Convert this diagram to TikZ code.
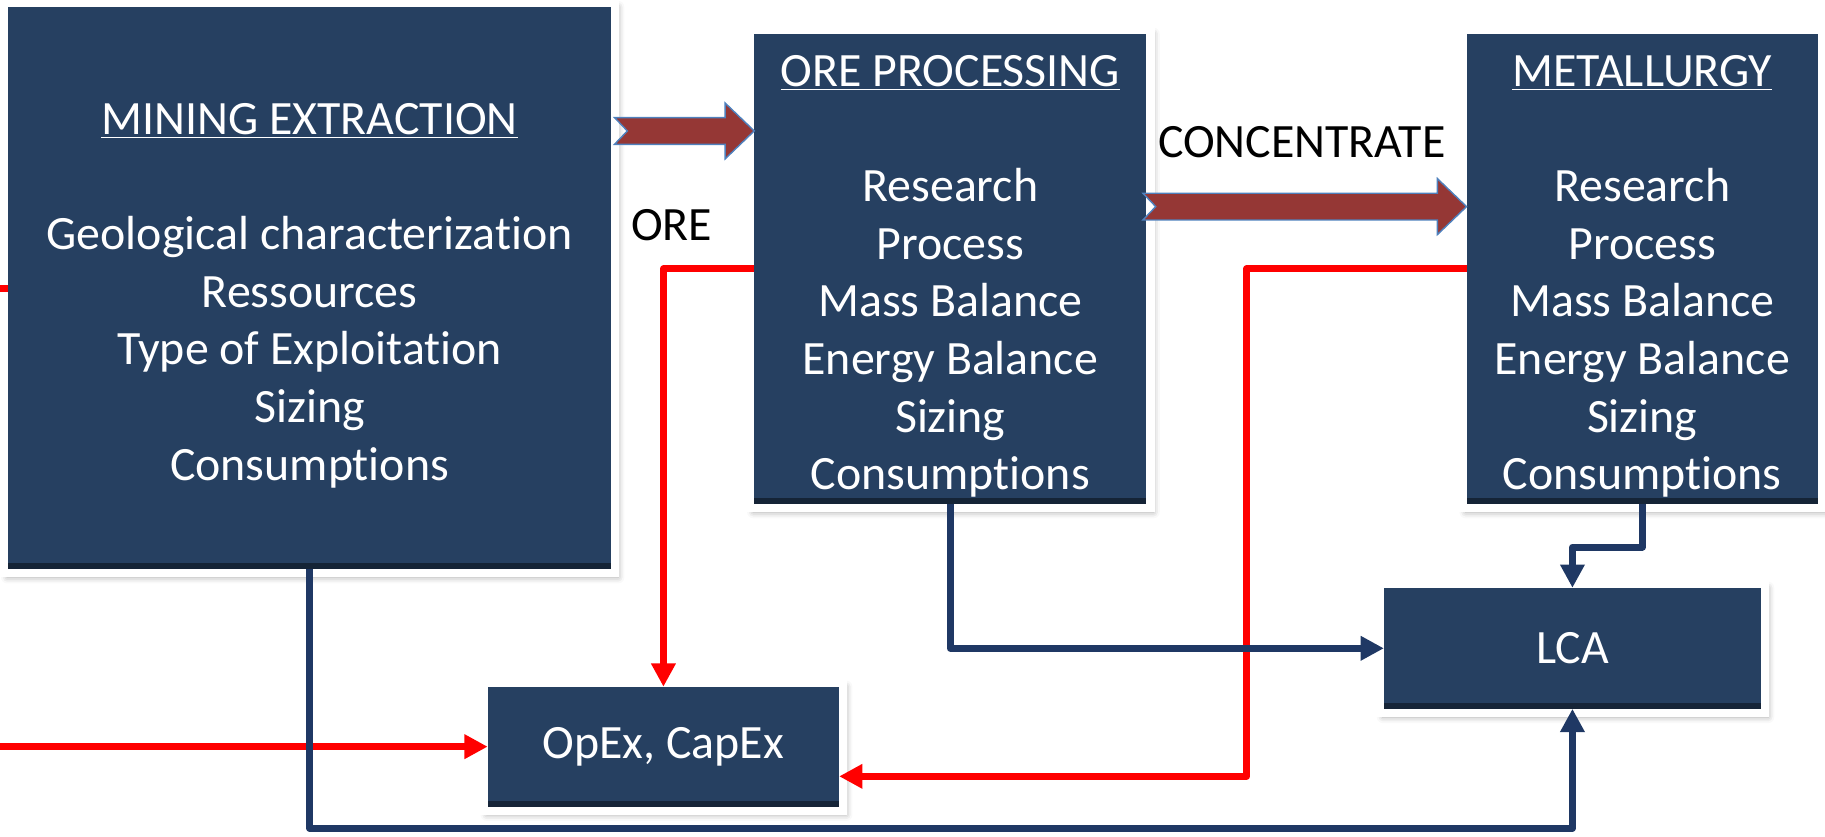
\documentclass[tikz,border=0pt]{standalone}
\usepackage{fontspec}
\setmainfont{Carlito}[Ligatures=NoCommon]
\usepackage{tikz}
\usetikzlibrary{calc}
\usetikzlibrary{arrows.meta,shadows.blur}

\definecolor{boxblue}{RGB}{38,64,97}
\definecolor{lineblue}{RGB}{31,56,100}
\definecolor{flowred}{RGB}{149,55,53}
\definecolor{flowedge}{RGB}{79,129,189}

\begin{document}
\begin{tikzpicture}[x=0.2mm, y=-0.2mm,
	block/.style={rectangle, fill=boxblue, draw=white, line width=4pt,
		outer sep=-2pt, inner sep=0pt, text=white, align=center,
		font=\fontsize{23.4}{28.2}\selectfont,
		blur shadow={shadow xshift=1.5pt, shadow yshift=-2pt,
			shadow blur radius=3pt, shadow opacity=35},
		path picture={\shade[top color=boxblue, bottom color=boxblue!55!black]
			(path picture bounding box.south west)
			rectangle ([yshift=1.6mm]path picture bounding box.south east);}},
	tag/.style={text=black, font=\fontsize{23.4}{28.2}\selectfont},
	blueflow/.style={draw=lineblue, line width=3.4pt, line join=round,
		-{Triangle[length=4mm,width=4mm]}},
	redflow/.style={draw=red, line width=3.4pt, line join=round,
		-{Triangle[length=4mm,width=4mm]}},
	fatarrow/.style={fill=flowred, draw=flowedge, line width=0.7pt}]
	
	\useasboundingbox (0,0) rectangle (1568,719);
	\clip (0,0) rectangle (1568,719);
	
	% stage title, with some room above it
	\def\head#1{\rule{0pt}{22.5pt}\underline{#1}}
	
	% the three stages
	\node[block, minimum width=105mm, minimum height=98mm] (mining) at (266,247.5)
	{\head{MINING EXTRACTION}\\[\baselineskip]
		Geological characterization\\ Ressources\\ Type of Exploitation\\
		Sizing\\ Consumptions};
	\node[block, minimum width=68.8mm, minimum height=82.2mm] (ore) at (816.5,231)
	{\head{ORE PROCESSING}\\[\baselineskip]
		Research\\ Process\\ Mass Balance\\ Energy Balance\\ Sizing\\ Consumptions};
	\node[block, minimum width=61.8mm, minimum height=82.2mm] (met) at (1411,231)
	{\head{METALLURGY}\\[\baselineskip]
		Research\\ Process\\ Mass Balance\\ Energy Balance\\ Sizing\\ Consumptions};
	
	% costs and life cycle
	\node[block, minimum width=61.8mm, minimum height=22mm] (opex) at (570,641.5) {OpEx, CapEx};
	\node[block, minimum width=66.2mm, minimum height=22.2mm] (lca) at (1351,557) {LCA};
	
	% material flow between the stages
	\def\sh{11.5} % half of the shaft
	\def\hh{24} % half of the head
	\def\hl{25} % length of the head
	\def\nd{11} % depth of the notch
	\coordinate (oreLevel) at (0,112.5);
	\coordinate (conLevel) at (0,177.5);
	\coordinate (A1) at ([xshift=0.6mm]mining.east |- oreLevel);
	\coordinate (B1) at (ore.west |- oreLevel);
	\coordinate (A2) at ([xshift=-0.6mm]ore.east |- conLevel);
	\coordinate (B2) at (met.west |- conLevel);
	\foreach \a/\b in {A1/B1, A2/B2}
	\filldraw[fatarrow] ($(\a)+(0,-\sh)$) -- ($(\b)+(-\hl,-\sh)$) -- ($(\b)+(-\hl,-\hh)$)
	-- (\b) -- ($(\b)+(-\hl,\hh)$) -- ($(\b)+(-\hl,\sh)$) -- ($(\a)+(0,\sh)$)
	-- ($(\a)+(\nd,0)$) -- cycle;
	
	\node[tag] (oreTag) at (577,193) {ORE};
	\node[tag] (conTag) at (1118.5,122) {CONCENTRATE};
	
	% cost links
	\coordinate (redturn) at (1071,667);
	\draw[redflow] (mining.west) -- ++(-40,0) |- (opex.west);
	\draw[redflow] (ore.west) -| (opex.north);
	\draw[redflow] (met.west) -| (redturn) -- (opex.east |- redturn);
	
	% inventory links
	\coordinate (bluebase) at (0,711.5);
	\draw[blueflow] (mining.south) -- (mining.south |- bluebase) -| (lca.south);
	\draw[blueflow] (ore.south) |- (lca.west);
	\draw[blueflow] (met.south) -- ++(0,37) -| (lca.north);
\end{tikzpicture}
\end{document}
